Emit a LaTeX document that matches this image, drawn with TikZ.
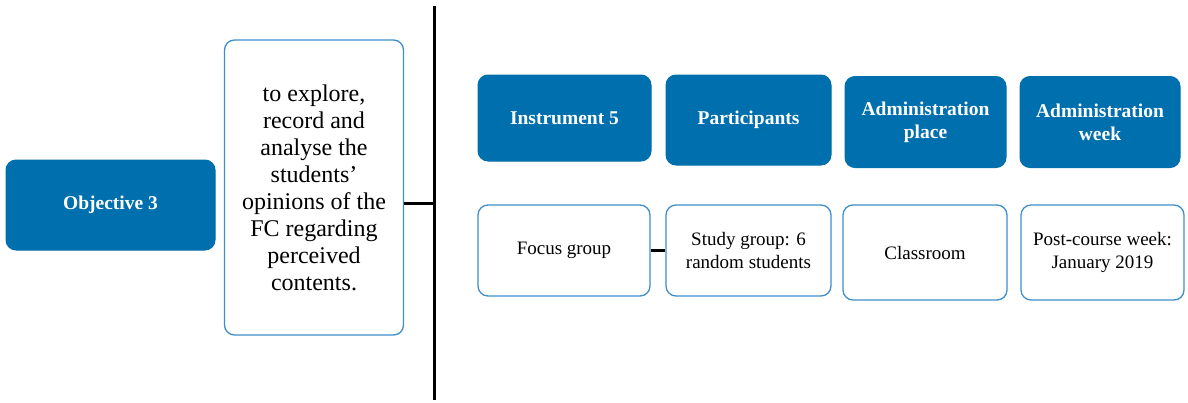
\documentclass[tikz,border=0pt]{standalone}
\usepackage{fontspec}
\setmainfont{Liberation Serif}
\begin{document}
\begin{tikzpicture}[x=1pt,y=-1pt,
  headbox/.style={draw=boxblue, fill=boxblue, rounded corners=10pt, line width=1pt,
    text=white, align=center, font=\fontsize{19.5}{23}\selectfont\bfseries, inner sep=0pt},
  infobox/.style={draw=edgeblue, fill=white, rounded corners=10pt, line width=1.3pt,
    text=black, align=center, font=\fontsize{19}{23}\selectfont, inner sep=0pt},
  link/.style={draw=black, line width=3pt}]
\definecolor{boxblue}{RGB}{0,111,173}
\definecolor{edgeblue}{RGB}{62,142,201}
\useasboundingbox (0,0) rectangle (1188,402);

% left column: objective and its description
\node[headbox, minimum width=209pt, minimum height=90pt] (obj) at (110.5,205) {Objective 3};
\node[infobox, minimum width=179pt, minimum height=295pt,
      font=\fontsize{24}{27}\selectfont] (txt) at (314,187.5)
  {to explore,\\record and\\analyse the\\students’\\opinions of the\\FC regarding\\perceived\\contents.};

% vertical divider and its branch to the description box
\coordinate (vtop) at (434,6);
\coordinate (vbot) at (434,400);
\coordinate (jn) at (434,203);
\draw[link] (vtop) -- (vbot);
\draw[link] (txt.east |- jn) -- (jn);

% heading row
\node[headbox, minimum width=173pt, minimum height=86pt] (ins) at (564.5,118) {Instrument 5};
\node[headbox, minimum width=165pt, minimum height=90pt] (par) at (748.5,120) {Participants};
\node[headbox, minimum width=161pt, minimum height=91pt] (plc) at (925.5,122) {Administration\\place};
\node[headbox, minimum width=160pt, minimum height=91pt] (wk) at (1100,122) {Administration\\week};

% detail row
\node[infobox, minimum width=172pt, minimum height=91pt] (fg) at (564,250.5) {Focus group};
\node[infobox, minimum width=165pt, minimum height=91pt] (sg) at (748.5,250.5) {Study group: 6\\random students};
\node[infobox, minimum width=164pt, minimum height=95pt] (cls) at (925,252.5) {Classroom};
\node[infobox, minimum width=163pt, minimum height=95pt] (pc) at (1102.5,252.5) {Post-course week:\\January 2019};

\draw[link] (fg.east) -- (sg.west);
\end{tikzpicture}
\end{document}
